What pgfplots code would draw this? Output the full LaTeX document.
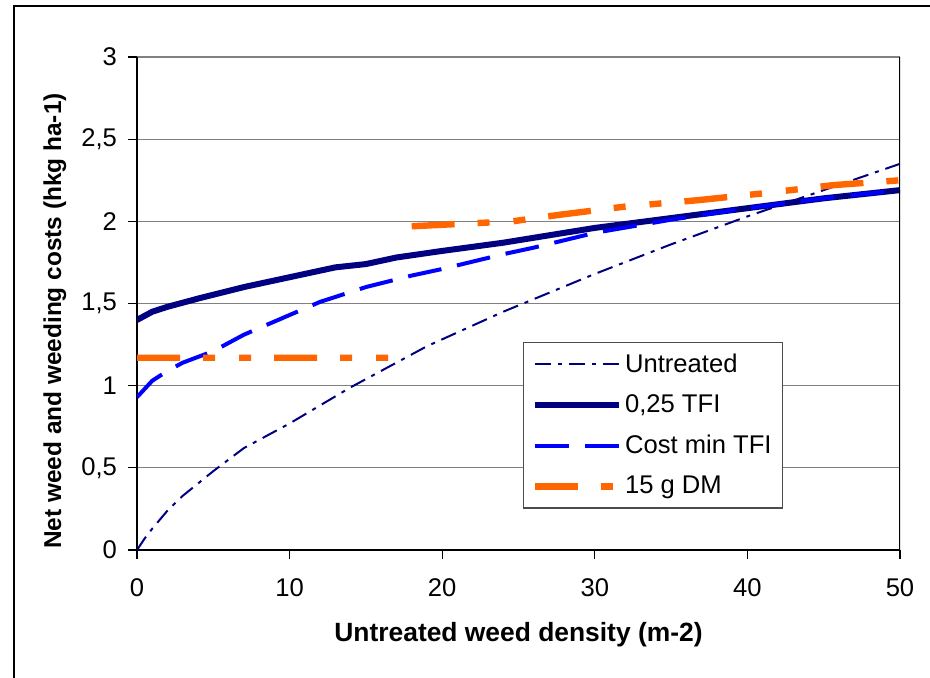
\documentclass[border=0pt]{standalone}
\usepackage{pgfplots}
\pgfplotsset{compat=1.18}
\usepackage{fontspec}
\setmainfont{Liberation Sans}
\definecolor{navyc}{RGB}{0,0,128}
\definecolor{bluec}{RGB}{0,0,255}
\definecolor{orangec}{RGB}{255,102,0}
\definecolor{gridc}{RGB}{128,128,128}
\begin{document}
\begin{tikzpicture}
\useasboundingbox (0,0) rectangle (465pt,338.5pt);
\draw[line width=1.2pt] (7pt,-5pt) -- (7pt,335.5pt) -- (470pt,335.5pt);
\begin{axis}[
  at={(68.5pt,63.5pt)}, anchor=south west,
  scale only axis, width=381.5pt, height=246.5pt,
  xmin=0, xmax=50, ymin=0, ymax=3,
  xtick={0,10,...,50}, ytick={0,0.5,...,3},
  ymajorgrids, grid style={gridc, line width=0.6pt},
  axis x line*=bottom, axis y line*=left,
  axis line style={black, line width=0.7pt},
  tick align=outside, major tick length=4.5pt,
  tick style={black, line width=0.6pt},
  ticklabel style={font=\fontsize{12.8}{15}\selectfont},
  /pgf/number format/use comma,
  /pgf/number format/assume math mode=true,
  xticklabel style={yshift=-6.5pt},
  yticklabel style={xshift=-2pt},
  xlabel={Untreated weed density (m-2)},
  ylabel={Net weed and weeding costs (hkg ha-1)},
  xlabel style={font=\fontsize{13.2}{15}\selectfont\bfseries, at={(axis description cs:0.5,-0.1724)}, anchor=center},
  ylabel style={font=\fontsize{12.2}{15}\selectfont\bfseries, at={(axis description cs:-0.1075,0.4645)}, anchor=center},
  unbounded coords=jump,
  legend cell align=left,
  legend style={at={(0.506,0.422)}, anchor=north west,
    draw=black!70, line width=0.6pt, inner xsep=4pt, inner ysep=3.5pt,
    font=\fontsize{12.8}{15}\selectfont, row sep=5.8pt,
    nodes={inner xsep=1.5pt}},
  legend image code/.code={\draw[#1] (0pt,0pt) -- (42pt,0pt);},
]
\addplot[navyc, line width=1pt, dash pattern=on 8pt off 3.5pt on 2pt off 3.5pt] coordinates {
(0,0) (0.5,0.07) (1,0.13) (2,0.24) (3,0.33) (5,0.48) (7,0.62) (10,0.77) (14,0.99) (19,1.24) (24,1.45) (30,1.68) (35,1.86) (40,2.03) (45,2.19) (50,2.35)};
\addlegendentry{Untreated}
\addplot[navyc, line width=3pt, line join=round] coordinates {
(0,1.40) (1,1.45) (2,1.48) (4,1.53) (7,1.60) (10,1.66) (13,1.72) (15,1.74) (17,1.78) (20,1.82) (24,1.87) (26,1.90) (28,1.93) (30,1.96) (35,2.02) (40,2.08) (45,2.14) (50,2.19)};
\addlegendentry{0,25 TFI}
\addplot[bluec, line width=2pt, dash pattern=on 17pt off 8pt] coordinates {
(0,0.93) (1,1.03) (2,1.09) (3,1.14) (5,1.21) (7,1.31) (10,1.43) (12,1.51) (15,1.60) (18,1.67) (20,1.71) (24,1.80) (26,1.84) (30,1.93) (35,2.01) (40,2.08) (45,2.14) (50,2.19)};
\addlegendentry{Cost min TFI}
\addplot[orangec, line width=3.2pt, dash pattern=on 21.5pt off 11.5pt on 6pt off 12pt on 6pt off 11.5pt] coordinates {
(0,1.17) (16.6,1.17) (17.3,nan) (18,1.97) (24.6,2.00) (27.7,2.04) (32,2.09) (36.9,2.13) (41,2.17) (45.6,2.22) (50,2.25)};
\addlegendentry{15 g DM}
\draw[black, line width=0.7pt] (rel axis cs:1,0) -- (rel axis cs:1,1);
\end{axis}
\end{tikzpicture}
\end{document}
